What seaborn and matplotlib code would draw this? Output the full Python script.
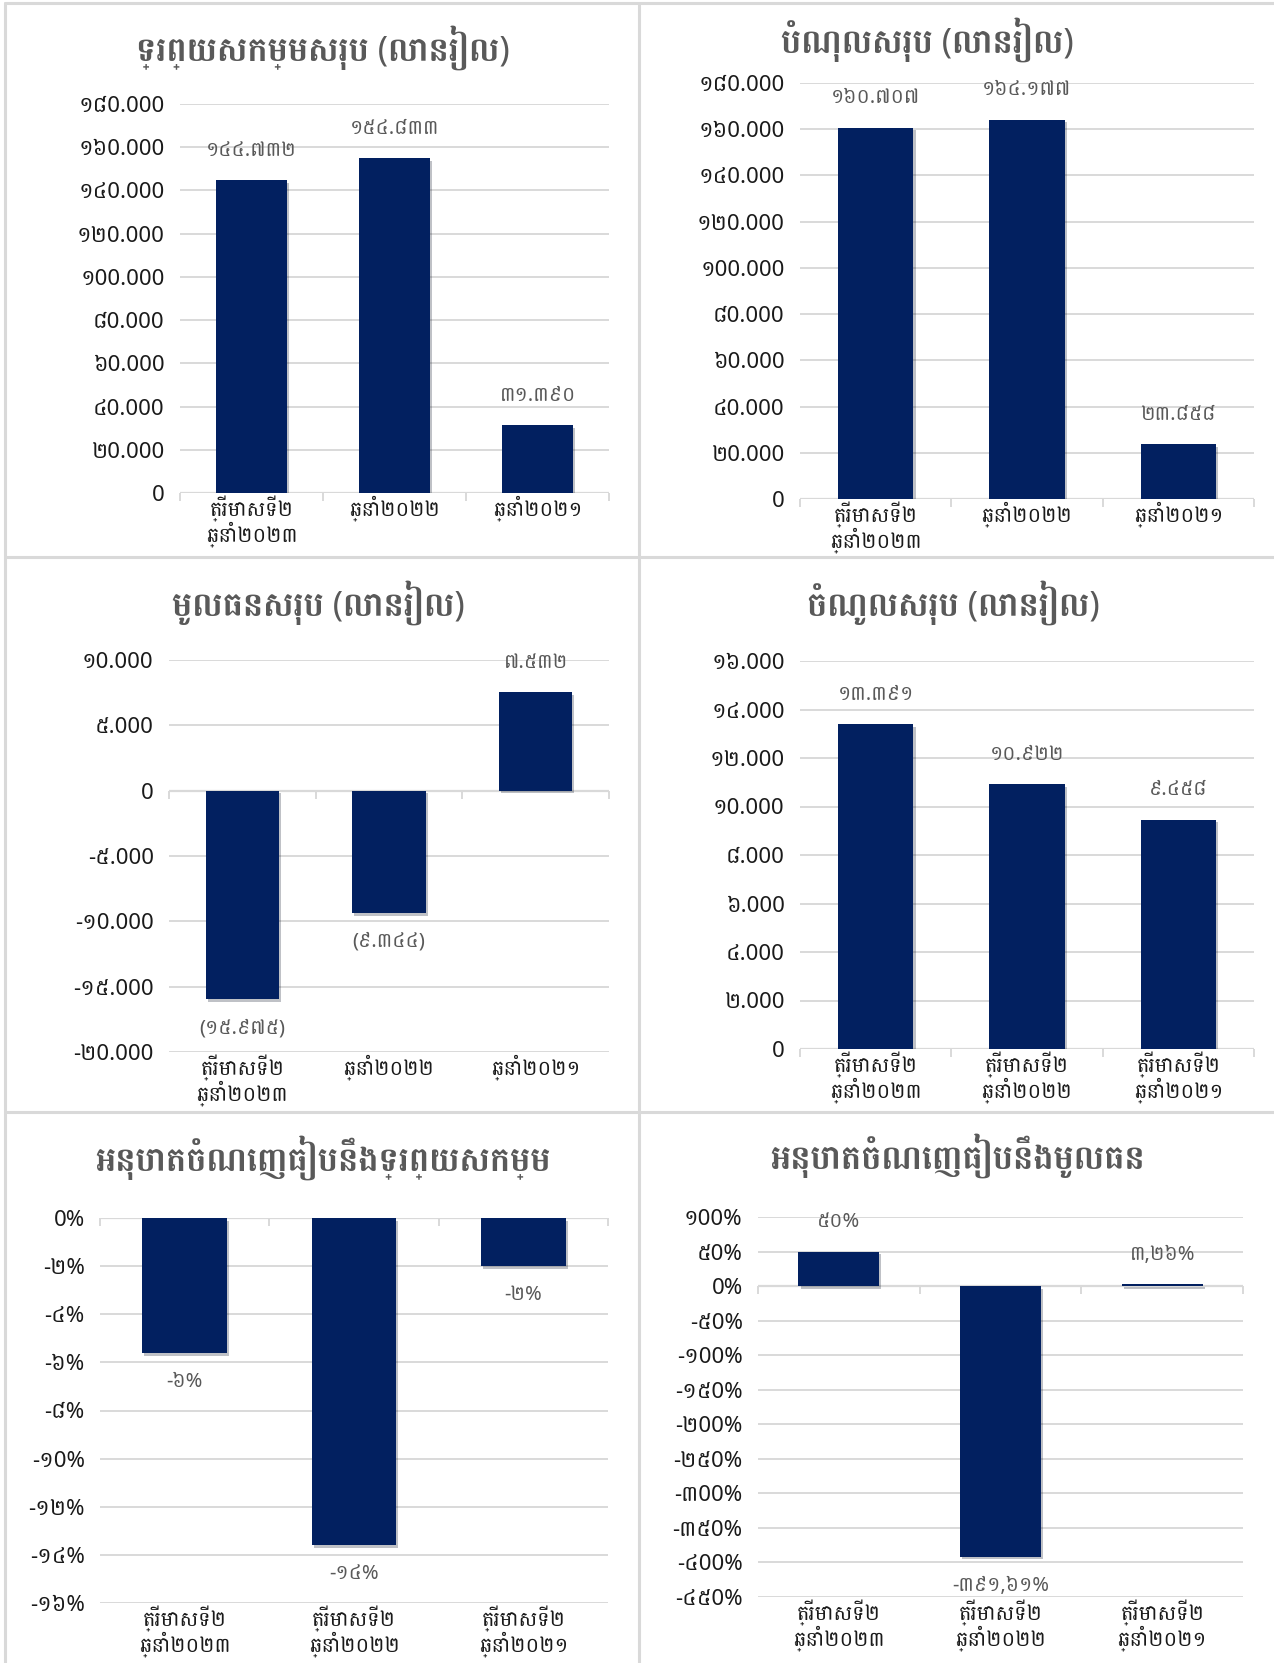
import numpy as np
import pandas as pd
import seaborn as sns
import matplotlib
matplotlib.use("Agg")
from matplotlib import pyplot as plt
from matplotlib import patheffects as pe
from matplotlib.lines import Line2D

# categories
cat_year = ["ត្រីមាសទី២\nឆ្នាំ២០២៣", "ឆ្នាំ២០២២", "ឆ្នាំ២០២១"]
cat_quarter = ["ត្រីមាសទី២\nឆ្នាំ២០២៣", "ត្រីមាសទី២\nឆ្នាំ២០២២", "ត្រីមាសទី២\nឆ្នាំ២០២១"]

# values (million riel / percent)
assets = [144732, 154833, 31390]
liabilities = [160707, 164177, 23858]
equity = [-15975, -9344, 7532]
income = [13391, 10922, 9458]
roa = [-5.6, -13.6, -2.0]
roe = [50, -391.61, 3.26]

titles = ["ទ្រព្យសកម្មសរុប (លានរៀល)", "បំណុលសរុប (លានរៀល)",
          "មូលធនសរុប (លានរៀល)", "ចំណូលសរុប (លានរៀល)",
          "អនុបាតចំណេញធៀបនឹងទ្រព្យសកម្ម", "អនុបាតចំណេញធៀបនឹងមូលធន"]

NAVY = "#022060"
GRID = "#D9D9D9"
W, H = 1274, 1663

sns.set_style("white")
# latin from Noto Sans, khmer glyphs fall back to Battambang
plt.rcParams["font.family"] = ["Noto Sans", "Battambang", "Noto Sans Khmer", "DejaVu Sans"]

KH = str.maketrans("0123456789", "០១២៣៤៥៦៧៨៩")
KH_TICK = str.maketrans("123456789", "១២៣៤៥៦៧៨៩")  # ticks keep latin zeros


def thousands(v):
    return f"{abs(v):,.0f}".replace(",", ".")


def tick_money(t):
    return (("-" if t < 0 else "") + thousands(t)).translate(KH_TICK)


def tick_pct(t):
    return f"{t:.0f}%".translate(KH_TICK)


def lab_money(v):
    s = thousands(v).translate(KH)
    return s if v >= 0 else "(" + s + ")"


def lab_pct0(v):
    return f"{v:.0f}%".translate(KH)


def lab_pct2(v):
    s = f"{v:.2f}".rstrip("0").rstrip(".").replace(".", ",")
    return (s + "%").translate(KH)


def draw(box, cats, vals, lo, hi, step, tick_fmt, lab_fmt, title, title_xy):
    x0, y0, x1, y1 = box
    ax = fig.add_axes([x0 / W, 1 - y1 / H, (x1 - x0) / W, (y1 - y0) / H])
    df = pd.DataFrame({"cat": cats, "val": vals})
    sns.barplot(data=df, x="cat", y="val", color=NAVY, saturation=1,
                width=0.5, ax=ax, zorder=2, linewidth=0)
    # soft excel-like shadow under the bars
    for p in ax.patches:
        p.set_path_effects([pe.SimplePatchShadow(offset=(1.5, -2), alpha=0.25),
                            pe.Normal()])
    ax.set_xlim(-0.5, len(cats) - 0.5)
    ax.set_ylim(lo, hi)
    ticks = np.arange(lo, hi + step / 2, step)
    ax.set_yticks(ticks)
    ax.set_yticklabels([tick_fmt(t) for t in ticks])
    ax.set_xlabel("")
    ax.set_ylabel("")
    ax.tick_params(axis="y", length=0, pad=11, labelsize=16, labelcolor="#1a1a1a")
    ax.tick_params(axis="x", length=0, pad=2, labelsize=15, labelcolor="#1a1a1a")
    for lab in ax.get_xticklabels():
        lab.set_linespacing(0.95)
    for s in ax.spines.values():
        s.set_visible(False)
    ax.yaxis.grid(True, color=GRID, lw=1.4)
    ax.set_axisbelow(True)
    # category separators on the zero line
    yz = (0 - lo) / (hi - lo)
    ax.vlines([-0.5, 0.5, 1.5, 2.5], yz - 8 / (y1 - y0), yz,
              transform=ax.get_xaxis_transform(), color=GRID, lw=1.4, clip_on=False)
    ax.axhline(0, color=GRID, lw=1.6, zorder=1)
    for i, v in enumerate(vals):
        ax.annotate(lab_fmt(v), (i, v), xytext=(0, 21 if v >= 0 else -21),
                    textcoords="offset points", ha="center", va="center",
                    fontsize=14.5, color="#595959")
    fig.text(title_xy[0] / W, 1 - title_xy[1] / H, title, ha="center", va="center",
             fontsize=24.5, fontweight="bold", color="#595959")
    return ax


fig = plt.figure(figsize=(W / 100, H / 100), dpi=100)
fig.patch.set_facecolor("white")

draw((180, 104, 609, 493), cat_year, assets, 0, 180000, 20000,
     tick_money, lab_money, titles[0], (323, 48))
draw((800, 83, 1254, 499), cat_year, liabilities, 0, 180000, 20000,
     tick_money, lab_money, titles[1], (927, 40))
draw((169, 660, 609, 1052), cat_year, equity, -20000, 10000, 5000,
     tick_money, lab_money, titles[2], (318, 603))
draw((800, 661, 1254, 1049), cat_quarter, income, 0, 16000, 2000,
     tick_money, lab_money, titles[3], (953, 603))
draw((100, 1218, 608, 1603), cat_quarter, roa, -16, 0, 2,
     tick_pct, lab_pct0, titles[4], (323, 1158))
draw((758, 1217, 1243, 1597), cat_quarter, roe, -450, 100, 50,
     tick_pct, lab_pct2, titles[5], (958, 1156))

# panel borders
for x in (5, 639):
    fig.add_artist(Line2D([x / W, x / W], [0, 1 - 3 / H], color=GRID, lw=2.2))
for y in (3, 557, 1112):
    fig.add_artist(Line2D([5 / W, 1], [1 - y / H, 1 - y / H], color=GRID, lw=2.2))

fig.savefig("out.png", dpi=100, facecolor="white")
